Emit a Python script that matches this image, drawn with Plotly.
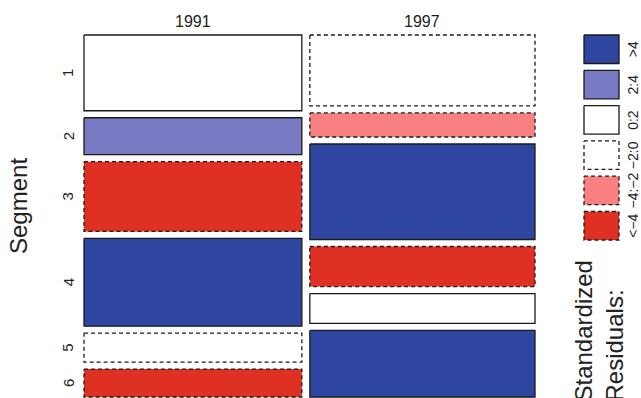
import plotly.graph_objects as go

# Counts by year and segment
years = ["1991", "1997"]
segments = ["1", "2", "3", "4", "5", "6"]
counts_1991 = [152, 74, 140, 176, 58, 56]
counts_1997 = [147, 50, 198, 83, 62, 138]

# Standardized (Pearson) residuals for each cell
resid_1991 = [1.2, 2.9, -4.6, 6.1, -0.4, -4.3]
resid_1997 = [-1.2, -2.9, 4.5, -6.0, 0.4, 4.2]

# Shading classes: label, lower bound, fill colour, dashed border
legend_labels = [">4", "2:4", "0:2", "\u22122:0", "\u22124:\u22122", "<\u22124"]
legend_lower = [4, 2, 0, -2, -4, float("-inf")]
legend_fill = ["#2F46A0", "#787AC4", "#FFFFFF", "#FFFFFF", "#F98080", "#DF3024"]
legend_dashed = [False, False, False, True, True, True]

# Layout of the mosaic (pixel-like units, y grows downwards)
LEFT, RIGHT, TOP, BOTTOM = 84.0, 535.0, 35.0, 397.0
COL_GAP, ROW_GAP = 8.0, 7.0
BORDER = "#1a1a1a"
DASH = "4px,3px"
FONT = "Liberation Sans, Arial, sans-serif"


def shade_class(r):
    for i, lo in enumerate(legend_lower):
        if r > lo:
            return i
    return len(legend_lower) - 1


def rect_trace(x0, x1, y0, y1, fill, dashed):
    return go.Scatter(
        x=[x0, x1, x1, x0, x0],
        y=[y0, y0, y1, y1, y0],
        mode="lines",
        fill="toself",
        fillcolor=fill,
        line=dict(color=BORDER, width=1.3, dash=DASH if dashed else "solid"),
        hoverinfo="skip",
        showlegend=False,
    )


fig = go.Figure()
annotations = []

table = [counts_1991, counts_1997]
resids = [resid_1991, resid_1997]
grand = sum(sum(c) for c in table)
avail_w = RIGHT - LEFT - COL_GAP * (len(years) - 1)
avail_h = BOTTOM - TOP - ROW_GAP * (len(segments) - 1)

x = LEFT
first_col_centres = []
for ci, (year, col, res) in enumerate(zip(years, table, resids)):
    total = sum(col)
    w = avail_w * total / grand
    y = TOP
    for ri, (n, r) in enumerate(zip(col, res)):
        h = avail_h * n / total
        k = shade_class(r)
        fig.add_trace(rect_trace(x, x + w, y, y + h, legend_fill[k], legend_dashed[k]))
        if ci == 0:
            first_col_centres.append(y + h / 2)
        y += h + ROW_GAP
    annotations.append(dict(x=x + w / 2, y=21, text=year, showarrow=False,
                            font=dict(size=16, color="#222")))
    x += w + COL_GAP

# Segment tick labels
for seg, yc in zip(segments, first_col_centres):
    annotations.append(dict(x=68, y=yc, text=seg, textangle=-90, showarrow=False,
                            font=dict(size=15, color="#222")))

# Axis title
annotations.append(dict(x=18, y=206, text="Segment", textangle=-90, showarrow=False,
                        font=dict(size=24, color="#222")))

# Residual legend
LX0, LX1, LTOP, LH, LSTEP = 584.0, 619.0, 35.0, 28.5, 35.3
for i, (lab, fill, dashed) in enumerate(zip(legend_labels, legend_fill, legend_dashed)):
    y0 = LTOP + i * LSTEP
    fig.add_trace(rect_trace(LX0, LX1, y0, y0 + LH, fill, dashed))
    annotations.append(dict(x=633, y=y0 + LH / 2, text=lab, textangle=-90, showarrow=False,
                            font=dict(size=14, color="#222")))

annotations.append(dict(x=598, y=259, yanchor="top", xanchor="center",
                        text="Standardized<br>Residuals:", textangle=-90, align="left",
                        showarrow=False, font=dict(size=24, color="#222")))

fig.update_layout(
    width=641, height=398,
    margin=dict(l=0, r=0, t=0, b=0),
    paper_bgcolor="white", plot_bgcolor="white",
    xaxis=dict(range=[0, 641], visible=False, fixedrange=True),
    yaxis=dict(range=[398, 0], visible=False, fixedrange=True),
    annotations=annotations,
    font=dict(family=FONT),
)

fig.write_html("out.html")
